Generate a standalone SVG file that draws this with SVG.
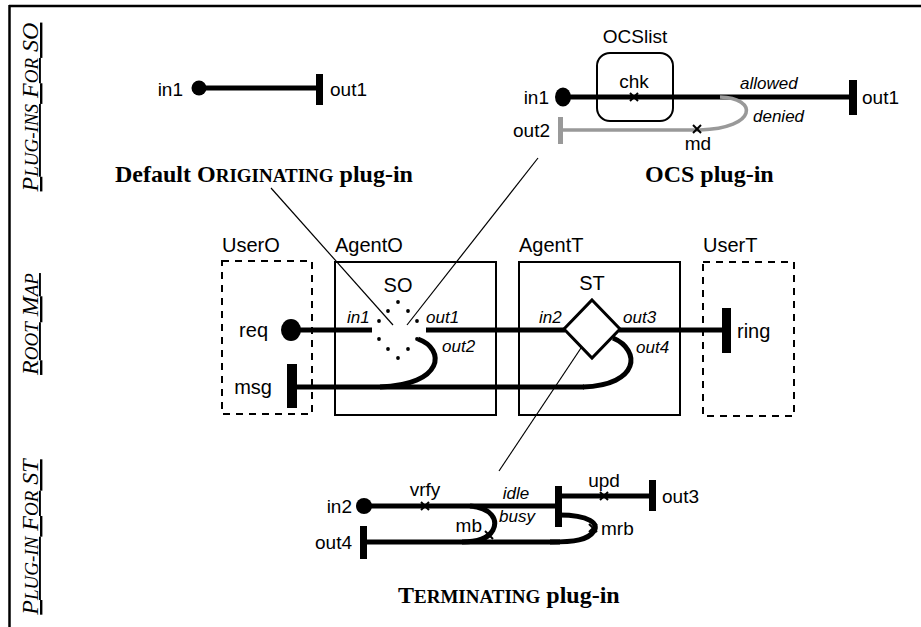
<svg xmlns="http://www.w3.org/2000/svg" width="921" height="627" viewBox="0 0 921 627">
<style>
.lbl{font-family:"Liberation Sans",Arial,sans-serif;font-size:19px;fill:#000}
.nm{font-family:"Liberation Sans",Arial,sans-serif;font-size:20px;fill:#000}
.it{font-family:"Liberation Sans",Arial,sans-serif;font-size:17px;font-style:italic;fill:#000}
.ttl{font-family:"Liberation Serif","Times New Roman",serif;font-size:24px;font-weight:bold;fill:#000}
.side{font-family:"Liberation Serif","Times New Roman",serif;font-size:24px;font-style:italic;fill:#000;text-decoration:underline}
.sc{font-size:19px}
.path{fill:none;stroke:#000;stroke-width:5}
.grey{fill:none;stroke:#999;stroke-width:3.5}
.thin{fill:none;stroke:#000;stroke-width:1.2}
.box{fill:none;stroke:#000;stroke-width:2}
.dash{fill:none;stroke:#000;stroke-width:2;stroke-dasharray:7 6}
.xm{stroke:#000;stroke-width:2}
.dot{fill:#000}
</style>
<defs>
<g id="xmark"><line class="xm" x1="-4" y1="-4" x2="4" y2="4"/><line class="xm" x1="-4" y1="4" x2="4" y2="-4"/></g>
</defs>

<g id="frame">
<line x1="9" y1="6" x2="921" y2="6" stroke="#000" stroke-width="2.5"/>
<line x1="9.5" y1="5" x2="9.5" y2="627" stroke="#000" stroke-width="2.5"/>
</g>

<g id="side-labels">
<text class="side" x="38" y="107" text-anchor="middle" transform="rotate(-90 38 107)">P<tspan class="sc">LUG-INS</tspan> F<tspan class="sc">OR</tspan> SO</text>
<text class="side" x="38" y="324" text-anchor="middle" transform="rotate(-90 38 324)">R<tspan class="sc">OOT</tspan> M<tspan class="sc">AP</tspan></text>
<text class="side" x="38" y="537" text-anchor="middle" transform="rotate(-90 38 537)">P<tspan class="sc">LUG-IN</tspan> F<tspan class="sc">OR</tspan> ST</text>
</g>

<g id="connectors">
<!-- leader lines -->
<line class="thin" x1="271" y1="188" x2="393" y2="325"/>
<line class="thin" x1="538" y1="158" x2="407" y2="325"/>
<line class="thin" x1="593" y1="330" x2="499" y2="471"/>
<!-- default originating plug-in -->
<line class="path" x1="199" y1="88" x2="320" y2="88"/>
<!-- OCS plug-in -->
<line class="path" x1="563" y1="97" x2="853" y2="97"/>
<path class="grey" d="M 720,97 C 758,98 758,128 700,130 L 561,130"/>
<!-- root map -->
<line class="path" x1="291" y1="330" x2="372" y2="330"/>
<line class="path" x1="426" y1="330" x2="565" y2="330"/>
<line class="path" x1="619" y1="330" x2="726" y2="330"/>
<path class="path" d="M 418,339 C 446,349 444,385 380,387"/>
<path class="path" d="M 613,338 C 641,350 640,385 583,387"/>
<line class="path" x1="292" y1="387" x2="584" y2="387"/>
<!-- terminating plug-in -->
<line class="path" x1="364" y1="506" x2="558" y2="506"/>
<line class="path" x1="558" y1="496" x2="652" y2="496"/>
<path class="path" d="M 470,506 C 492,508 498,520 493,530 C 488,539 478,542 462,542"/>
<path class="path" d="M 559,515 C 590,515 599,524 594,531 C 588,540 575,542 550,542"/>
<line class="path" x1="364" y1="542" x2="560" y2="542"/>
</g>

<g id="default-originating">
<text class="lbl" x="183" y="96" text-anchor="end">in1</text>
<circle cx="199" cy="88" r="7.5"/>
<rect x="316" y="74" width="7" height="31"/>
<text class="lbl" x="330" y="96">out1</text>
<text class="ttl" x="115" y="182">Default O<tspan class="sc">RIGINATING</tspan> plug-in</text>
</g>

<g id="ocs-plugin">
<rect class="box" x="597" y="53" width="76" height="68" rx="13" stroke-width="1.5"/>
<text class="lbl" x="635" y="43" text-anchor="middle">OCSlist</text>
<text class="lbl" x="634" y="88" text-anchor="middle">chk</text>
<use href="#xmark" x="634" y="97"/>
<text class="lbl" x="549" y="104" text-anchor="end">in1</text>
<ellipse cx="563" cy="97" rx="8" ry="9.5"/>
<rect x="849" y="80" width="8" height="35"/>
<text class="lbl" x="862" y="104">out1</text>
<text class="it" x="740" y="89">allowed</text>
<text class="it" x="753" y="122">denied</text>
<rect x="558" y="117" width="5" height="27" fill="#999"/>
<text class="lbl" x="550" y="137" text-anchor="end">out2</text>
<use href="#xmark" x="697" y="129"/>
<text class="lbl" x="698" y="150" text-anchor="middle">md</text>
<text class="ttl" x="645" y="182">OCS plug-in</text>
</g>

<g id="UserO">
<rect class="dash" x="222" y="261" width="90" height="153"/>
<text class="nm" x="222" y="252">UserO</text>
<ellipse cx="291" cy="330" rx="10" ry="11"/>
<text class="nm" x="268" y="337" text-anchor="end">req</text>
<rect x="287" y="364" width="10" height="44"/>
<text class="nm" x="272" y="394" text-anchor="end">msg</text>
</g>

<g id="AgentO">
<rect class="box" x="335" y="262" width="161" height="153"/>
<text class="nm" x="335" y="252">AgentO</text>
<text class="nm" x="398" y="292" text-anchor="middle">SO</text>
<g id="SO">
<circle class="dot" cx="398" cy="302" r="1.9"/>
<circle class="dot" cx="388" cy="311" r="1.9"/>
<circle class="dot" cx="408" cy="311" r="1.9"/>
<circle class="dot" cx="379" cy="321" r="1.9"/>
<circle class="dot" cx="417" cy="321" r="1.9"/>
<circle class="dot" cx="379" cy="339" r="1.9"/>
<circle class="dot" cx="417" cy="339" r="1.9"/>
<circle class="dot" cx="388" cy="349" r="1.9"/>
<circle class="dot" cx="408" cy="349" r="1.9"/>
<circle class="dot" cx="398" cy="358" r="1.9"/>
</g>
<text class="it" x="347" y="323">in1</text>
<text class="it" x="426" y="323">out1</text>
<text class="it" x="442" y="352">out2</text>
</g>

<g id="AgentT">
<rect class="box" x="519" y="262" width="161" height="153"/>
<text class="nm" x="519" y="252">AgentT</text>
<text class="nm" x="592" y="290" text-anchor="middle">ST</text>
<polygon id="ST" points="592,300 620,329 592,358 564,329" fill="#fff" stroke="#000" stroke-width="3"/>
<text class="it" x="539" y="323">in2</text>
<text class="it" x="623" y="323">out3</text>
<text class="it" x="636" y="353">out4</text>
</g>

<g id="UserT">
<rect class="dash" x="703" y="262" width="91" height="154"/>
<text class="nm" x="703" y="252">UserT</text>
<rect x="722" y="308" width="9" height="45"/>
<text class="nm" x="737" y="338">ring</text>
</g>

<g id="terminating-plugin">
<circle cx="364" cy="506" r="8"/>
<text class="lbl" x="352" y="513" text-anchor="end">in2</text>
<text class="lbl" x="425" y="496" text-anchor="middle">vrfy</text>
<use href="#xmark" x="425" y="506"/>
<text class="it" x="516" y="499" text-anchor="middle">idle</text>
<text class="it" x="517" y="522" text-anchor="middle">busy</text>
<rect x="555" y="486" width="7" height="41"/>
<text class="lbl" x="604" y="487" text-anchor="middle">upd</text>
<use href="#xmark" x="604" y="496"/>
<rect x="649" y="480" width="7" height="31"/>
<text class="lbl" x="662" y="503">out3</text>
<text class="lbl" x="482" y="532" text-anchor="end">mb</text>
<use href="#xmark" x="489" y="535"/>
<use href="#xmark" x="593" y="528"/>
<text class="lbl" x="601" y="535">mrb</text>
<rect x="360" y="526" width="7" height="33"/>
<text class="lbl" x="352" y="549" text-anchor="end">out4</text>
<text class="ttl" x="398" y="603">T<tspan class="sc">ERMINATING</tspan> plug-in</text>
</g>
</svg>
